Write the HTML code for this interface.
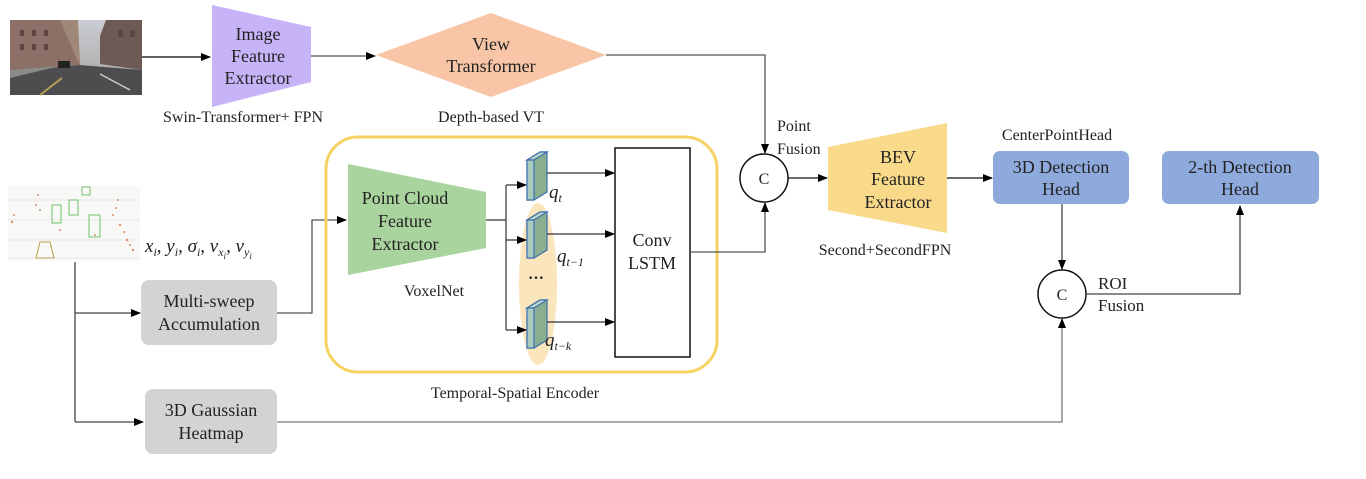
<!DOCTYPE html>
<html><head><meta charset="utf-8"><style>
html,body{margin:0;padding:0;background:#fff;}
svg{display:block;font-family:"Liberation Serif",serif;}
</style></head><body>
<svg width="1366" height="479" viewBox="0 0 1366 479" xmlns="http://www.w3.org/2000/svg">
<defs>
<marker id="a" markerWidth="10" markerHeight="8" refX="9" refY="4" orient="auto" markerUnits="userSpaceOnUse"><path d="M0,0 L10,4 L0,8 z" fill="#000"/></marker>
<linearGradient id="sky" x1="0" y1="0" x2="0" y2="1"><stop offset="0" stop-color="#c9ccd2"/><stop offset="1" stop-color="#a8a4a0"/></linearGradient>
</defs>
<!-- street photo -->
<rect x="10" y="20" width="132" height="75" fill="url(#sky)"/>
<polygon points="10,20 60,20 78,38 80,68 10,72" fill="#8c6f66"/>
<polygon points="60,20 78,20 80,62 78,62" fill="#a08878"/>
<polygon points="106,20 142,20 142,70 100,64 100,36" fill="#6e5a55"/>
<g fill="#5a4540"><rect x="20" y="30" width="4" height="6"/><rect x="32" y="30" width="4" height="6"/><rect x="44" y="30" width="4" height="6"/><rect x="20" y="44" width="4" height="6"/><rect x="32" y="44" width="4" height="6"/><rect x="44" y="44" width="4" height="6"/><rect x="118" y="30" width="5" height="7"/><rect x="130" y="30" width="5" height="7"/></g>
<polygon points="10,72 80,65 142,70 142,95 10,95" fill="#4d4d50"/>
<polygon points="10,70 60,66 10,78" fill="#8a8a88"/>
<line x1="40" y1="95" x2="62" y2="78" stroke="#b8a050" stroke-width="2"/>
<line x1="100" y1="74" x2="130" y2="90" stroke="#ccc" stroke-width="1.5"/>
<rect x="58" y="61" width="12" height="7" fill="#222"/>
<!-- image feature extractor -->
<polygon points="212,5 311,27 311,82 212,107" fill="#c7b3f7"/>
<text x="258" y="40" font-size="18" text-anchor="middle" fill="#222">Image</text>
<text x="258" y="62" font-size="18" text-anchor="middle" fill="#222">Feature</text>
<text x="258" y="84" font-size="18" text-anchor="middle" fill="#222">Extractor</text>
<line x1="142" y1="57" x2="210" y2="57" stroke="#000" stroke-width="1.3" marker-end="url(#a)"/>
<line x1="311" y1="56" x2="375" y2="56" stroke="#555" stroke-width="1.3" marker-end="url(#a)"/>
<text x="243" y="122" font-size="16" text-anchor="middle" fill="#222">Swin-Transformer+ FPN</text>
<!-- view transformer -->
<polygon points="376,55 491,13 606,55 491,97" fill="#f8c6a6"/>
<text x="491" y="50" font-size="18" text-anchor="middle" fill="#222">View</text>
<text x="491" y="72" font-size="18" text-anchor="middle" fill="#222">Transformer</text>
<text x="491" y="122" font-size="16" text-anchor="middle" fill="#222">Depth-based VT</text>
<polyline points="606,55 765,55 765,153" fill="none" stroke="#555" stroke-width="1.3" marker-end="url(#a)"/>
<!-- point cloud -->
<rect x="8" y="186" width="132" height="75" fill="#f8f8f6"/>
<g stroke="#e6e6e6" stroke-width="1"><line x1="8" y1="200" x2="140" y2="200"/><line x1="8" y1="220" x2="140" y2="220"/><line x1="8" y1="240" x2="140" y2="240"/><line x1="8" y1="258" x2="140" y2="258"/></g>
<g fill="#d9906e"><circle cx="38" cy="195" r="1"/><circle cx="40" cy="210" r="1"/><circle cx="12" cy="222" r="1.2"/><circle cx="118" cy="200" r="1"/><circle cx="120" cy="225" r="1.2"/><circle cx="127" cy="240" r="1.2"/><circle cx="133" cy="250" r="1.2"/><circle cx="113" cy="215" r="1"/><circle cx="95" cy="235" r="1"/><circle cx="60" cy="230" r="1"/><circle cx="124" cy="232" r="1"/><circle cx="130" cy="245" r="1"/><circle cx="116" cy="208" r="1"/><circle cx="36" cy="205" r="1"/><circle cx="14" cy="215" r="1"/></g>
<g fill="none" stroke="#6fc46a" stroke-width="1"><rect x="52" y="205" width="9" height="18"/><rect x="69" y="200" width="9" height="15"/><rect x="82" y="187" width="8" height="8"/><rect x="89" y="215" width="11" height="22"/></g>
<polygon points="40,242 50,242 54,258 36,258" fill="none" stroke="#b8a050" stroke-width="1"/>
<text x="145" y="252" font-size="19" font-style="italic" fill="#222">x<tspan font-size="12" dy="4">i</tspan><tspan dy="-4">, y</tspan><tspan font-size="12" dy="4">i</tspan><tspan dy="-4">, σ</tspan><tspan font-size="12" dy="4">i</tspan><tspan dy="-4">, v</tspan><tspan font-size="12" dy="4">x<tspan font-size="9" dy="3">i</tspan></tspan><tspan dy="-7">, v</tspan><tspan font-size="12" dy="4">y<tspan font-size="9" dy="3">i</tspan></tspan></text>
<!-- left tree -->
<polyline points="75,262 75,422" fill="none" stroke="#444" stroke-width="1.3"/>
<line x1="75" y1="313" x2="140" y2="313" stroke="#444" stroke-width="1.3" marker-end="url(#a)"/>
<line x1="75" y1="422" x2="143" y2="422" stroke="#444" stroke-width="1.3" marker-end="url(#a)"/>
<rect x="141" y="280" width="136" height="65" rx="8" fill="#d3d3d3"/>
<text x="209" y="307" font-size="18" text-anchor="middle" fill="#222">Multi-sweep</text>
<text x="209" y="330" font-size="18" text-anchor="middle" fill="#222">Accumulation</text>
<rect x="145" y="389" width="132" height="65" rx="8" fill="#d3d3d3"/>
<text x="211" y="416" font-size="18" text-anchor="middle" fill="#222">3D Gaussian</text>
<text x="211" y="439" font-size="18" text-anchor="middle" fill="#222">Heatmap</text>
<polyline points="277,313 312,313 312,220 346,220" fill="none" stroke="#555" stroke-width="1.3" marker-end="url(#a)"/>
<polyline points="277,422 1062,422 1062,319" fill="none" stroke="#777" stroke-width="1.3" marker-end="url(#a)"/>
<!-- encoder -->
<rect x="326" y="137" width="391" height="235" rx="32" fill="none" stroke="#f5d262" stroke-width="3"/>
<polygon points="348,164 486,192 486,248 348,275" fill="#a9d49e"/>
<text x="405" y="204" font-size="18" text-anchor="middle" fill="#222">Point Cloud</text>
<text x="405" y="227" font-size="18" text-anchor="middle" fill="#222">Feature</text>
<text x="405" y="250" font-size="18" text-anchor="middle" fill="#222">Extractor</text>
<text x="434" y="296" font-size="16" text-anchor="middle" fill="#222">VoxelNet</text>
<ellipse cx="538" cy="284" rx="19" ry="81" fill="#fbe5bd"/>
<polyline points="486,220 506,220" fill="none" stroke="#333" stroke-width="1.2"/>
<line x1="506" y1="185" x2="506" y2="330" stroke="#333" stroke-width="1.2"/>
<line x1="506" y1="185" x2="526" y2="185" stroke="#333" stroke-width="1.2" marker-end="url(#a)"/>
<line x1="506" y1="240" x2="526" y2="240" stroke="#333" stroke-width="1.2" marker-end="url(#a)"/>
<line x1="506" y1="330" x2="526" y2="330" stroke="#333" stroke-width="1.2" marker-end="url(#a)"/>
<g stroke="#3f6fb0" stroke-width="1.2">
<polygon points="527,160 540,152 547,152 547,192 534,200 527,200" fill="#8aaf90"/><polygon points="527,160 540,152 547,152 534,160" fill="#b8d6c8"/><rect x="527" y="160" width="7" height="40" fill="#a8cbbe"/>
<polygon points="527,220 540,212 547,212 547,250 534,258 527,258" fill="#8aaf90"/><polygon points="527,220 540,212 547,212 534,220" fill="#b8d6c8"/><rect x="527" y="220" width="7" height="38" fill="#a8cbbe"/>
<polygon points="527,308 540,300 547,300 547,340 534,348 527,348" fill="#8aaf90"/><polygon points="527,308 540,300 547,300 534,308" fill="#b8d6c8"/><rect x="527" y="308" width="7" height="40" fill="#a8cbbe"/>
</g>
<text x="549" y="198" font-size="19" font-style="italic" fill="#222">q<tspan font-size="12" dy="4">t</tspan></text>
<text x="557" y="262" font-size="19" font-style="italic" fill="#222">q<tspan font-size="12" dy="4">t−1</tspan></text>
<text x="545" y="346" font-size="19" font-style="italic" fill="#222">q<tspan font-size="12" dy="4">t−k</tspan></text>
<text x="536" y="283" font-size="16" text-anchor="middle" fill="#222" font-weight="bold">···</text>
<line x1="547" y1="173" x2="614" y2="173" stroke="#333" stroke-width="1.2" marker-end="url(#a)"/>
<line x1="547" y1="234" x2="614" y2="234" stroke="#333" stroke-width="1.2" marker-end="url(#a)"/>
<line x1="547" y1="322" x2="614" y2="322" stroke="#333" stroke-width="1.2" marker-end="url(#a)"/>
<rect x="615" y="148" width="75" height="209" fill="#fff" stroke="#111" stroke-width="1.5"/>
<text x="652" y="246" font-size="18" text-anchor="middle" fill="#222">Conv</text>
<text x="652" y="269" font-size="18" text-anchor="middle" fill="#222">LSTM</text>
<text x="515" y="398" font-size="16" text-anchor="middle" fill="#222">Temporal-Spatial Encoder</text>
<polyline points="690,252 765,252 765,203" fill="none" stroke="#555" stroke-width="1.3" marker-end="url(#a)"/>
<!-- point fusion -->
<circle cx="764" cy="178" r="24" fill="#fff" stroke="#111" stroke-width="1.5"/>
<text x="764" y="184" font-size="16" text-anchor="middle" fill="#222">C</text>
<text x="777" y="131" font-size="16" fill="#222">Point</text>
<text x="777" y="154" font-size="16" fill="#222">Fusion</text>
<line x1="788" y1="178" x2="827" y2="178" stroke="#111" stroke-width="1.3" marker-end="url(#a)"/>
<polygon points="828,147 947,123 947,233 828,210" fill="#f9d98a"/>
<text x="898" y="163" font-size="18" text-anchor="middle" fill="#222">BEV</text>
<text x="898" y="185" font-size="18" text-anchor="middle" fill="#222">Feature</text>
<text x="898" y="208" font-size="18" text-anchor="middle" fill="#222">Extractor</text>
<text x="885" y="255" font-size="16" text-anchor="middle" fill="#222">Second+SecondFPN</text>
<line x1="947" y1="178" x2="992" y2="178" stroke="#111" stroke-width="1.3" marker-end="url(#a)"/>
<!-- heads -->
<text x="1057" y="140" font-size="16" text-anchor="middle" fill="#222">CenterPointHead</text>
<rect x="993" y="151" width="136" height="53" rx="7" fill="#8eaadc"/>
<text x="1061" y="173" font-size="18" text-anchor="middle" fill="#222">3D Detection</text>
<text x="1061" y="195" font-size="18" text-anchor="middle" fill="#222">Head</text>
<rect x="1162" y="151" width="157" height="53" rx="7" fill="#8eaadc"/>
<text x="1240" y="173" font-size="18" text-anchor="middle" fill="#222">2-th Detection</text>
<text x="1240" y="195" font-size="18" text-anchor="middle" fill="#222">Head</text>
<line x1="1062" y1="204" x2="1062" y2="269" stroke="#444" stroke-width="1.3" marker-end="url(#a)"/>
<circle cx="1062" cy="294" r="24" fill="#fff" stroke="#111" stroke-width="1.5"/>
<text x="1062" y="300" font-size="16" text-anchor="middle" fill="#222">C</text>
<text x="1098" y="289" font-size="17" fill="#222">ROI</text>
<text x="1098" y="311" font-size="17" fill="#222">Fusion</text>
<polyline points="1086,294 1240,294 1240,206" fill="none" stroke="#444" stroke-width="1.3" marker-end="url(#a)"/>
</svg>
</body></html>
